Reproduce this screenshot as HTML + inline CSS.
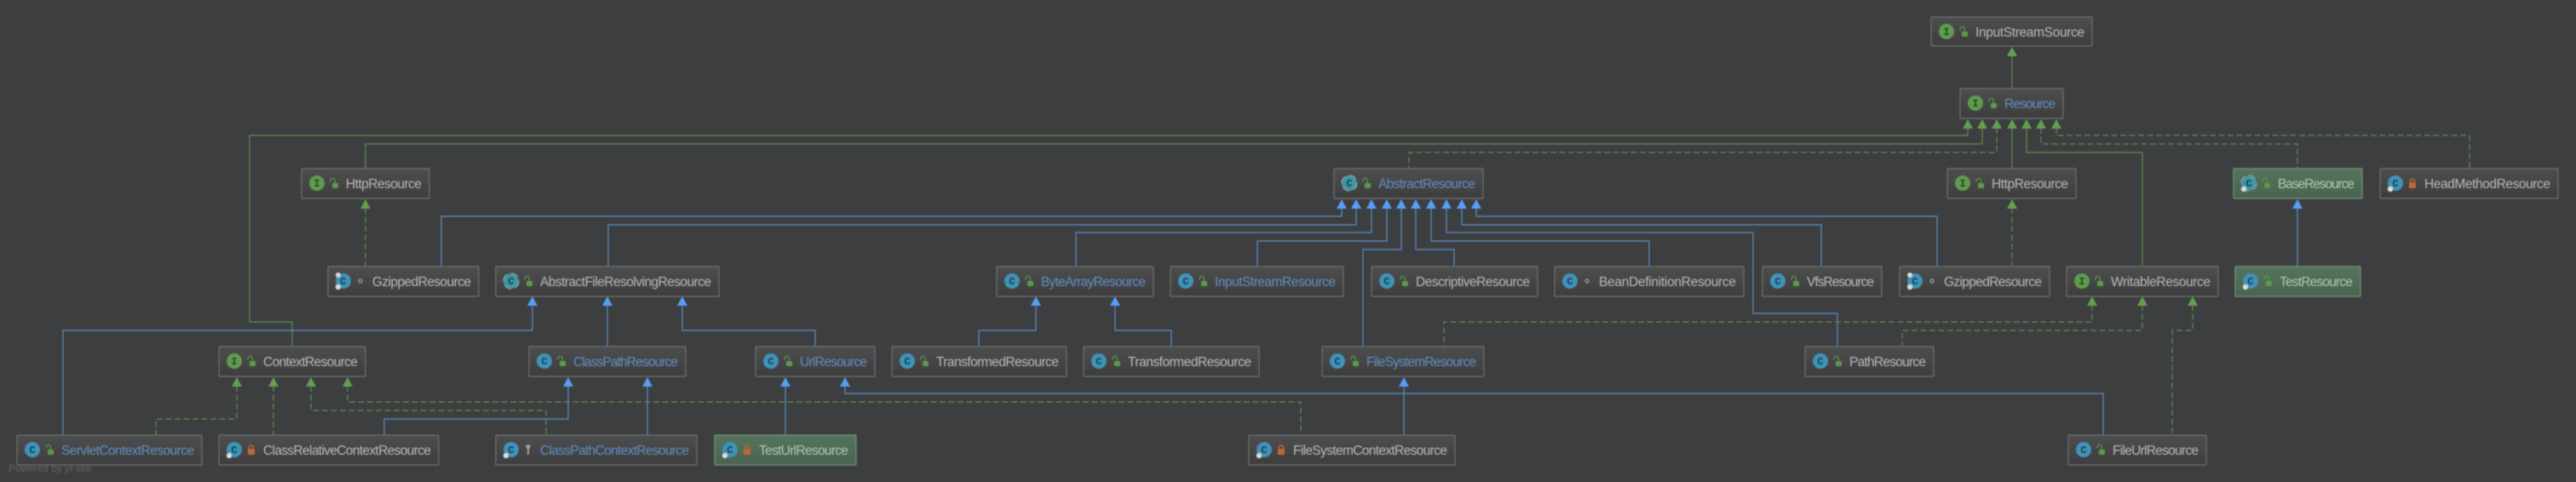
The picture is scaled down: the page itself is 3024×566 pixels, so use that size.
<!DOCTYPE html>
<html><head><meta charset="utf-8"><style>
html,body{margin:0;padding:0;background:#3d3e3f;width:3024px;height:566px;overflow:hidden}
svg{display:block;filter:blur(.6px)}
.n{font:15.5px "Liberation Sans",sans-serif;fill:#b9b9b9}
.b{fill:#5f8fc4}
.g{fill:#b4c6b4}
.l{font:bold 12px "Liberation Mono",monospace;text-anchor:middle;fill:#1d3b4a}
.li{fill:#234a22}
.ln{fill:none;stroke-width:1.2}
.bl{stroke:#5a8fc8}
.gr{stroke:#5e8f50}
.ds{stroke-dasharray:7 3.5}
.r{fill:url(#f);stroke:#6a6a6a;stroke-width:1.4}
.rg{fill:url(#fg);stroke:#6f8a72;stroke-width:1.4}
.ci{fill:#5f9b4f}
.cc{fill:#3f93b8}
.ca{fill:#3f97a5;stroke:#8a9a9a;stroke-width:1.5;stroke-dasharray:9 5}
</style></head><body>
<svg width="3024" height="566" viewBox="0 0 3024 566" xmlns="http://www.w3.org/2000/svg">
<defs>
<linearGradient id="f" x1="0" y1="0" x2="0" y2="1"><stop offset="0" stop-color="#4e4e4e"/><stop offset="1" stop-color="#3d3d3d"/></linearGradient>
<linearGradient id="fg" x1="0" y1="0" x2="0" y2="1"><stop offset="0" stop-color="#55745c"/><stop offset="1" stop-color="#4a6350"/></linearGradient>
<polygon id="ag" points="0,0 -6,11 6,11" fill="#62a04f"/>
<polygon id="ab" points="0,0 -6,11 6,11" fill="#589df6"/>
<g id="o"><path d="M34 15.5v-1.5a2.6 2.6 0 0 1 5.2 0v3" fill="none" stroke="#5b9a4a" stroke-width="1.2"/><rect x="36" y="17" width="7" height="6" rx="1" fill="#5b9a4a"/></g>
<g id="p"><path d="M35.5 16v-1.5a2.5 2.5 0 0 1 5 0v1.5" fill="none" stroke="#c2663a" stroke-width="1.5"/><rect x="34" y="16" width="8" height="7" rx="1" fill="#c2663a"/></g>
<circle id="d" cx="38" cy="17" r="2" fill="none" stroke="#9a9a9a" stroke-width="1.4"/>
<g id="k"><circle cx="38" cy="13.5" r="2.6" fill="#a0a0a0"/><rect x="37" y="14" width="2" height="9" fill="#a0a0a0"/></g>
<circle id="w" cx="12" cy="24" r="3.2" fill="#d8dcdc"/>
<circle id="w2" cx="12" cy="10" r="3" fill="#d8dcdc"/>
</defs>
<rect width="3024" height="566" fill="#3d3e3f"/>

<!-- green edges to Resource -->
<path class="ln gr" d="M2362 66V104"/>
<path class="ln gr" d="M2310 150V159H293V378H343V407"/>
<path class="ln gr" d="M2327 150V169H429V198"/>
<path class="ln gr ds" d="M2344 150V179H1654V198"/>
<path class="ln gr" d="M2362 150V198"/>
<path class="ln gr" d="M2379 150V179H2515V313"/>
<path class="ln gr ds" d="M2396 150V169H2697V198"/>
<path class="ln gr ds" d="M2414 150V159H2899V198"/>
<path class="ln gr ds" d="M429 244V313"/>
<path class="ln gr ds" d="M2362 244V313"/>

<!-- blue edges to AbstractResource -->
<path class="ln bl" d="M1575 244V254H518V313"/>
<path class="ln bl" d="M1592 244V264H714V313"/>
<path class="ln bl" d="M1610 244V273H1263V313"/>
<path class="ln bl" d="M1628 244V283H1476V313"/>
<path class="ln bl" d="M1645 244V293H1600V407"/>
<path class="ln bl" d="M1662 244V293H1707V313"/>
<path class="ln bl" d="M1680 244V283H1936V313"/>
<path class="ln bl" d="M1698 244V273H2058V368H2157V407"/>
<path class="ln bl" d="M1716 244V264H2138V313"/>
<path class="ln bl" d="M1733 244V254H2274V313"/>
<path class="ln bl" d="M2697 244V313"/>

<!-- row 3 to row 4/5 -->
<path class="ln bl" d="M625 358V388H74V511"/>
<path class="ln bl" d="M713 358V407"/>
<path class="ln bl" d="M801 358V388H957V407"/>
<path class="ln bl" d="M1216 358V388H1149V407"/>
<path class="ln bl" d="M1309 358V388H1375V407"/>
<path class="ln gr ds" d="M2456 358V378H1695V407"/>
<path class="ln gr ds" d="M2515 358V388H2233V407"/>
<path class="ln gr ds" d="M2574 358V388H2550V511"/>

<!-- row 4 to row 5 -->
<path class="ln gr ds" d="M278 453V492H183V511"/>
<path class="ln gr ds" d="M321 453V511"/>
<path class="ln gr ds" d="M365 453V482H641V511"/>
<path class="ln gr ds" d="M408 453V472H1527V511"/>
<path class="ln bl" d="M667 453V492H451V511"/>
<path class="ln bl" d="M760 453V511"/>
<path class="ln bl" d="M922 453V511"/>
<path class="ln bl" d="M992 453V462H2469V511"/>
<path class="ln bl" d="M1648 453V511"/>

<!-- arrowheads -->
<use href="#ag" x="2362" y="55"/>
<use href="#ag" x="2310" y="140"/><use href="#ag" x="2327" y="140"/><use href="#ag" x="2344" y="140"/><use href="#ag" x="2362" y="140"/><use href="#ag" x="2379" y="140"/><use href="#ag" x="2396" y="140"/><use href="#ag" x="2414" y="140"/>
<use href="#ag" x="429" y="234"/><use href="#ag" x="2362" y="234"/>
<use href="#ab" x="1575" y="234"/><use href="#ab" x="1592" y="234"/><use href="#ab" x="1610" y="234"/><use href="#ab" x="1628" y="234"/><use href="#ab" x="1645" y="234"/><use href="#ab" x="1662" y="234"/><use href="#ab" x="1680" y="234"/><use href="#ab" x="1698" y="234"/><use href="#ab" x="1716" y="234"/><use href="#ab" x="1733" y="234"/>
<use href="#ab" x="2697" y="234"/>
<use href="#ab" x="625" y="348"/><use href="#ab" x="713" y="348"/><use href="#ab" x="801" y="348"/>
<use href="#ab" x="1216" y="348"/><use href="#ab" x="1309" y="348"/>
<use href="#ag" x="2456" y="348"/><use href="#ag" x="2515" y="348"/><use href="#ag" x="2574" y="348"/>
<use href="#ag" x="278" y="443"/><use href="#ag" x="321" y="443"/><use href="#ag" x="365" y="443"/><use href="#ag" x="408" y="443"/>
<use href="#ab" x="667" y="443"/><use href="#ab" x="760" y="443"/>
<use href="#ab" x="922" y="443"/><use href="#ab" x="992" y="443"/><use href="#ab" x="1648" y="443"/>

<!-- nodes -->
<g transform="translate(2267,20)"><rect class="r" width="189" height="34" rx="1"/><circle class="ci" cx="18" cy="17" r="9"/><text class="l li" x="18" y="21">I</text><use href="#o"/><text class="n" x="52" y="23" textLength="128">InputStreamSource</text></g>
<g transform="translate(2301,104)"><rect class="r" width="121" height="35" rx="1"/><circle class="ci" cx="18" cy="17" r="9"/><text class="l li" x="18" y="21">I</text><use href="#o"/><text class="n b" x="52" y="23" textLength="60">Resource</text></g>

<g transform="translate(354,198)"><rect class="r" width="150" height="35" rx="1"/><circle class="ci" cx="18" cy="17" r="9"/><text class="l li" x="18" y="21">I</text><use href="#o"/><text class="n" x="52" y="23" textLength="89">HttpResource</text></g>
<g transform="translate(1566,198)"><rect class="r" width="175" height="35" rx="1"/><circle class="ca" cx="18" cy="17" r="9"/><text class="l" x="18" y="21">C</text><use href="#o"/><text class="n b" x="52" y="23" textLength="114">AbstractResource</text></g>
<g transform="translate(2286,198)"><rect class="r" width="151" height="35" rx="1"/><circle class="ci" cx="18" cy="17" r="9"/><text class="l li" x="18" y="21">I</text><use href="#o"/><text class="n" x="52" y="23" textLength="90">HttpResource</text></g>
<g transform="translate(2622,198)"><rect class="rg" width="151" height="35" rx="1"/><circle class="ca" cx="18" cy="17" r="9"/><text class="l" x="18" y="21">C</text><use href="#w"/><use href="#o"/><text class="n g" x="52" y="23" textLength="90">BaseResource</text></g>
<g transform="translate(2794,198)"><rect class="r" width="209" height="35" rx="1"/><circle class="cc" cx="18" cy="17" r="9"/><text class="l" x="18" y="21">C</text><use href="#w"/><use href="#p"/><text class="n" x="52" y="23" textLength="148">HeadMethodResource</text></g>

<g transform="translate(385,313)"><rect class="r" width="177" height="35" rx="1"/><circle class="cc" cx="18" cy="17" r="9"/><text class="l" x="18" y="21">C</text><use href="#w"/><use href="#w2"/><use href="#d"/><text class="n" x="52" y="23" textLength="116">GzippedResource</text></g>
<g transform="translate(582,313)"><rect class="r" width="262" height="35" rx="1"/><circle class="ca" cx="18" cy="17" r="9"/><text class="l" x="18" y="21">C</text><use href="#o"/><text class="n" x="52" y="23" textLength="201">AbstractFileResolvingResource</text></g>
<g transform="translate(1170,313)"><rect class="r" width="184" height="35" rx="1"/><circle class="cc" cx="18" cy="17" r="9"/><text class="l" x="18" y="21">C</text><use href="#o"/><text class="n b" x="52" y="23" textLength="123">ByteArrayResource</text></g>
<g transform="translate(1374,313)"><rect class="r" width="203" height="35" rx="1"/><circle class="cc" cx="18" cy="17" r="9"/><text class="l" x="18" y="21">C</text><use href="#o"/><text class="n b" x="52" y="23" textLength="142">InputStreamResource</text></g>
<g transform="translate(1610,313)"><rect class="r" width="195" height="35" rx="1"/><circle class="cc" cx="18" cy="17" r="9"/><text class="l" x="18" y="21">C</text><use href="#o"/><text class="n" x="52" y="23" textLength="134">DescriptiveResource</text></g>
<g transform="translate(1825,313)"><rect class="r" width="222" height="35" rx="1"/><circle class="cc" cx="18" cy="17" r="9"/><text class="l" x="18" y="21">C</text><use href="#d"/><text class="n" x="52" y="23" textLength="161">BeanDefinitionResource</text></g>
<g transform="translate(2069,313)"><rect class="r" width="140" height="35" rx="1"/><circle class="cc" cx="18" cy="17" r="9"/><text class="l" x="18" y="21">C</text><use href="#o"/><text class="n" x="52" y="23" textLength="79">VfsResource</text></g>
<g transform="translate(2230,313)"><rect class="r" width="176" height="35" rx="1"/><circle class="cc" cx="18" cy="17" r="9"/><text class="l" x="18" y="21">C</text><use href="#w"/><use href="#w2"/><use href="#d"/><text class="n" x="52" y="23" textLength="115">GzippedResource</text></g>
<g transform="translate(2426,313)"><rect class="r" width="178" height="35" rx="1"/><circle class="ci" cx="18" cy="17" r="9"/><text class="l li" x="18" y="21">I</text><use href="#o"/><text class="n" x="52" y="23" textLength="117">WritableResource</text></g>
<g transform="translate(2624,313)"><rect class="rg" width="147" height="35" rx="1"/><circle class="cc" cx="18" cy="17" r="9"/><text class="l" x="18" y="21">C</text><use href="#w"/><use href="#o"/><text class="n g" x="52" y="23" textLength="86">TestResource</text></g>

<g transform="translate(257,407)"><rect class="r" width="172" height="35" rx="1"/><circle class="ci" cx="18" cy="17" r="9"/><text class="l li" x="18" y="21">I</text><use href="#o"/><text class="n" x="52" y="23" textLength="111">ContextResource</text></g>
<g transform="translate(621,407)"><rect class="r" width="184" height="35" rx="1"/><circle class="cc" cx="18" cy="17" r="9"/><text class="l" x="18" y="21">C</text><use href="#o"/><text class="n b" x="52" y="23" textLength="123">ClassPathResource</text></g>
<g transform="translate(887,407)"><rect class="r" width="140" height="35" rx="1"/><circle class="cc" cx="18" cy="17" r="9"/><text class="l" x="18" y="21">C</text><use href="#o"/><text class="n b" x="52" y="23" textLength="79">UrlResource</text></g>
<g transform="translate(1047,407)"><rect class="r" width="205" height="35" rx="1"/><circle class="cc" cx="18" cy="17" r="9"/><text class="l" x="18" y="21">C</text><use href="#o"/><text class="n" x="52" y="23" textLength="144">TransformedResource</text></g>
<g transform="translate(1272,407)"><rect class="r" width="206" height="35" rx="1"/><circle class="cc" cx="18" cy="17" r="9"/><text class="l" x="18" y="21">C</text><use href="#o"/><text class="n" x="52" y="23" textLength="145">TransformedResource</text></g>
<g transform="translate(1552,407)"><rect class="r" width="190" height="35" rx="1"/><circle class="cc" cx="18" cy="17" r="9"/><text class="l" x="18" y="21">C</text><use href="#o"/><text class="n b" x="52" y="23" textLength="129">FileSystemResource</text></g>
<g transform="translate(2119,407)"><rect class="r" width="151" height="35" rx="1"/><circle class="cc" cx="18" cy="17" r="9"/><text class="l" x="18" y="21">C</text><use href="#o"/><text class="n" x="52" y="23" textLength="90">PathResource</text></g>

<g transform="translate(20,511)"><rect class="r" width="217" height="35" rx="1"/><circle class="cc" cx="18" cy="17" r="9"/><text class="l" x="18" y="21">C</text><use href="#o"/><text class="n b" x="52" y="23" textLength="156">ServletContextResource</text></g>
<g transform="translate(257,511)"><rect class="r" width="258" height="35" rx="1"/><circle class="cc" cx="18" cy="17" r="9"/><text class="l" x="18" y="21">C</text><use href="#w"/><use href="#p"/><text class="n" x="52" y="23" textLength="197">ClassRelativeContextResource</text></g>
<g transform="translate(582,511)"><rect class="r" width="236" height="35" rx="1"/><circle class="cc" cx="18" cy="17" r="9"/><text class="l" x="18" y="21">C</text><use href="#w"/><use href="#k"/><text class="n b" x="52" y="23" textLength="175">ClassPathContextResource</text></g>
<g transform="translate(839,511)"><rect class="rg" width="166" height="35" rx="1"/><circle class="cc" cx="18" cy="17" r="9"/><text class="l" x="18" y="21">C</text><use href="#w"/><use href="#p"/><text class="n g" x="52" y="23" textLength="105">TestUrlResource</text></g>
<g transform="translate(1466,511)"><rect class="r" width="242" height="35" rx="1"/><circle class="cc" cx="18" cy="17" r="9"/><text class="l" x="18" y="21">C</text><use href="#w"/><use href="#p"/><text class="n" x="52" y="23" textLength="181">FileSystemContextResource</text></g>
<g transform="translate(2428,511)"><rect class="r" width="162" height="35" rx="1"/><circle class="cc" cx="18" cy="17" r="9"/><text class="l" x="18" y="21">C</text><use href="#o"/><text class="n" x="52" y="23" textLength="101">FileUrlResource</text></g>

<text x="10" y="554" textLength="97" style="font:12px 'Liberation Sans',sans-serif;fill:#626466">Powered by yFiles</text>
</svg>
</body></html>
